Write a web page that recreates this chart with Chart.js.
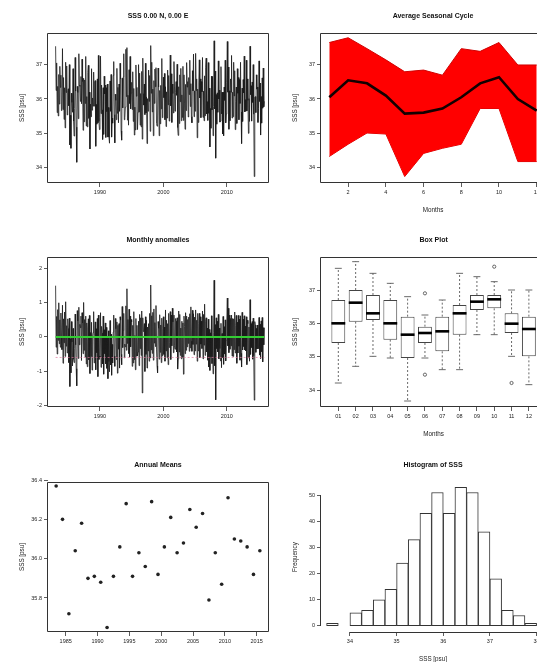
<!DOCTYPE html>
<html>
<head>
<meta charset="utf-8">
<script src="https://cdn.jsdelivr.net/npm/chart.js@4"></script>
<style>
  html, body { margin: 0; padding: 0; background: #fff; overflow: hidden; width: 537px; height: 662px; }
  canvas { position: absolute; }
</style>
</head>
<body>
<canvas id="series"></canvas>
<canvas id="cycle"></canvas>
<canvas id="anom"></canvas>
<canvas id="box"></canvas>
<canvas id="annual"></canvas>
<canvas id="hist"></canvas>
<script>
// ---- data ----
const startYear = 1983;
// monthly SSS, Jan 1983 .. Dec 2015, one row per year
const monthly = [
  37.55, 36.25, 37.06, 35.60, 36.37, 35.50, 36.72, 35.85, 36.96, 36.34, 36.70, 35.66,
  35.68, 37.48, 35.69, 36.63, 35.40, 36.33, 35.15, 37.08, 36.19, 36.97, 35.53, 36.19,
  36.30, 35.80, 37.01, 34.65, 35.52, 34.55, 36.17, 35.90, 35.61, 36.89, 35.35, 34.91,
  35.72, 37.22, 36.23, 35.17, 34.14, 36.37, 36.19, 35.42, 37.33, 36.41, 36.37, 35.93,
  36.66, 35.86, 37.17, 36.51, 35.08, 36.61, 35.33, 36.56, 35.87, 37.25, 35.21, 36.07,
  35.18, 36.78, 36.99, 35.43, 36.20, 34.53, 35.85, 35.48, 36.89, 35.67, 36.03, 35.79,
  36.79, 35.79, 36.50, 36.54, 34.61, 35.84, 35.26, 36.59, 35.30, 37.28, 35.34, 35.10,
  35.46, 37.26, 35.57, 36.41, 35.68, 34.81, 36.33, 34.96, 36.67, 36.15, 36.41, 34.87,
  36.33, 35.63, 36.44, 34.88, 35.75, 34.88, 34.70, 36.53, 35.64, 36.72, 34.88, 35.44,
  35.29, 36.69, 37.10, 35.54, 34.71, 36.14, 35.96, 35.39, 36.90, 35.58, 36.34, 35.30,
  36.44, 35.64, 37.05, 36.59, 35.06, 34.79, 36.61, 35.74, 36.65, 37.33, 35.39, 35.45,
  35.76, 37.46, 36.07, 37.51, 35.38, 36.11, 35.23, 36.86, 35.87, 37.25, 35.71, 36.17,
  36.49, 35.69, 36.80, 35.34, 36.31, 34.94, 35.76, 35.09, 37.00, 36.08, 36.34, 35.10,
  35.61, 37.01, 35.62, 36.76, 35.23, 36.16, 35.18, 36.81, 34.82, 37.20, 36.16, 35.82,
  36.44, 35.54, 37.05, 35.59, 36.06, 34.69, 36.01, 35.64, 36.85, 35.93, 36.69, 35.05,
  37.57, 36.17, 37.08, 35.62, 36.29, 34.92, 36.54, 35.87, 36.88, 36.36, 36.92, 35.28,
  35.20, 35.50, 36.91, 36.35, 34.92, 36.25, 35.27, 36.40, 35.71, 37.19, 35.45, 35.91,
  36.64, 36.04, 36.75, 35.39, 36.36, 35.19, 36.21, 35.44, 36.85, 35.83, 36.69, 35.35,
  35.89, 37.29, 35.80, 36.74, 35.31, 36.44, 36.16, 35.59, 37.10, 36.38, 35.64, 36.20,
  36.51, 36.11, 37.02, 35.16, 34.93, 36.36, 35.28, 36.71, 35.92, 36.90, 35.36, 36.12,
  35.46, 36.96, 35.37, 36.71, 35.88, 35.11, 36.43, 35.66, 37.07, 36.35, 36.51, 35.47,
  36.63, 36.13, 37.14, 35.78, 36.45, 35.48, 35.30, 36.83, 36.24, 37.32, 35.48, 36.24,
  35.64, 37.34, 36.25, 36.59, 34.86, 36.29, 35.31, 36.44, 37.15, 36.03, 36.59, 35.45,
  36.51, 36.21, 37.22, 35.46, 36.23, 35.36, 36.68, 35.51, 36.92, 37.20, 35.56, 35.92,
  35.37, 37.07, 35.58, 36.32, 34.59, 35.72, 35.14, 36.67, 35.68, 36.66, 34.92, 35.78,
  37.71, 35.71, 36.82, 34.26, 36.13, 35.26, 36.18, 35.61, 37.12, 36.00, 36.26, 35.32,
  35.35, 36.95, 35.56, 36.20, 34.97, 36.20, 34.92, 36.35, 35.96, 37.14, 35.30, 35.56,
  36.49, 37.69, 36.20, 36.94, 35.11, 36.24, 35.36, 36.59, 36.20, 37.28, 35.44, 36.20,
  35.48, 37.08, 36.09, 36.83, 35.10, 35.93, 36.35, 35.28, 36.89, 36.17, 36.63, 35.39,
  36.57, 35.87, 37.08, 35.62, 34.69, 36.32, 35.34, 36.57, 36.18, 37.26, 35.62, 35.98,
  35.64, 37.14, 35.65, 36.59, 35.96, 34.99, 36.01, 35.34, 37.55, 36.13, 36.39, 35.35,
  36.50, 35.90, 37.01, 35.55, 33.72, 36.05, 36.07, 35.60, 36.71, 36.29, 36.35, 35.31,
  35.72, 37.12, 35.93, 36.47, 34.94, 36.07, 35.29, 36.62, 35.73, 36.91, 35.77, 35.93
];

const monthNums = [1, 2, 3, 4, 5, 6, 7, 8, 9, 10, 11, 12];
const cycleMean = [36.05, 36.55, 36.46, 36.10, 35.57, 35.60, 35.72, 36.05, 36.46, 36.64, 36.00, 35.66];
const cycleMax  = [37.66, 37.80, 37.48, 37.15, 36.80, 36.85, 36.70, 37.48, 37.40, 37.66, 37.00, 37.00];
const cycleMin  = [34.31, 34.67, 35.00, 34.97, 33.72, 34.40, 34.55, 34.67, 35.72, 35.72, 34.16, 34.16];

const boxLabels = ["01", "02", "03", "04", "05", "06", "07", "08", "09", "10", "11", "12"];
const boxLow  = [34.21, 34.71, 35.01, 34.96, 33.67, 34.96, 34.61, 34.61, 35.66, 35.66, 35.01, 34.16];
const boxQ1   = [35.41, 36.05, 36.10, 35.51, 34.96, 35.41, 35.16, 35.66, 36.40, 36.45, 35.71, 35.01];
const boxMed  = [36.00, 36.62, 36.30, 36.00, 35.66, 35.71, 35.76, 36.30, 36.65, 36.72, 35.99, 35.83];
const boxQ3   = [36.70, 37.00, 36.85, 36.70, 36.20, 35.90, 36.20, 36.55, 36.85, 36.85, 36.30, 36.20];
const boxHigh = [37.65, 37.85, 37.50, 37.20, 36.80, 36.25, 36.70, 37.50, 37.40, 37.25, 37.00, 37.00];
const outMonth = [6, 6, 10, 11];
const outValue = [34.46, 36.90, 37.70, 34.21];

const years = [1983, 1984, 1985, 1986, 1987, 1988, 1989, 1990, 1991, 1992, 1993, 1994, 1995, 1996, 1997, 1998, 1999,
  2000, 2001, 2002, 2003, 2004, 2005, 2006, 2007, 2008, 2009, 2010, 2011, 2012, 2013, 2014, 2015];
const annualMeans = [36.37, 36.20, 35.72, 36.04, 36.18, 35.90, 35.91, 35.88, 35.65, 35.91, 36.06, 36.28, 35.91,
  36.03, 35.96, 36.29, 35.92, 36.06, 36.21, 36.03, 36.08, 36.25, 36.16, 36.23, 35.79, 36.03, 35.87,
  36.31, 36.10, 36.09, 36.06, 35.92, 36.04];

const histBreaks = [33.5, 33.75, 34.0, 34.25, 34.5, 34.75, 35.0, 35.25, 35.5, 35.75, 36.0, 36.25, 36.5,
  36.75, 37.0, 37.25, 37.5, 37.75, 38.0];
const histCounts = [1, 0, 5, 6, 10, 14, 24, 33, 43, 51, 43, 53, 51, 36, 18, 6, 4, 1];

const anomZero = 0;
const anomLow = -0.6;

const yearTicks = [1990, 2000, 2010];
const annualTicks = [1985, 1990, 1995, 2000, 2005, 2010, 2015];
const sssTicks = [34, 35, 36, 37];
const anomTicks = [-2, -1, 0, 1, 2];
const cycleTicks = [2, 4, 6, 8, 10, 12];
const annualYTicks = [35.8, 36.0, 36.2, 36.4];
const histXTicks = [34, 35, 36, 37, 38];
const histYTicks = [0, 10, 20, 30, 40, 50];

// ---- layout ----
const WY = 30, HX = 31, PT = 24, PR = 4;
Chart.defaults.font.family = "'Liberation Sans', Arial, sans-serif";
Chart.defaults.color = '#222';

function place(id, left, top, w, h) {
  const c = document.getElementById(id);
  c.width = WY + w + PR;
  c.height = PT + h + HX;
  c.style.left = (left - WY) + 'px';
  c.style.top = (top - PT) + 'px';
  return c;
}

function rScale(axis, min, max, tickVals, title, fmt) {
  return {
    type: 'linear', min: min, max: max, bounds: 'data', offset: false,
    afterBuildTicks: s => { s.ticks = tickVals.map(v => ({ value: v })); },
    afterFit: s => { if (axis === 'x') s.height = HX; else s.width = WY; },
    ticks: {
      autoSkip: false, maxRotation: 0, minRotation: 0, padding: 2,
      color: '#222', font: { size: 5.5 },
      callback: fmt || (v => String(v))
    },
    grid: { drawOnChartArea: false, drawTicks: true, tickLength: 4, color: '#333', lineWidth: 0.8, offset: false },
    border: { display: false },
    title: { display: !!title, text: title || '', color: '#222', font: { size: 6.3 }, padding: 0 }
  };
}

function baseOptions(xs, ys, title, box) {
  return {
    responsive: false, animation: false, devicePixelRatio: 1,
    layout: { padding: { top: PT, left: 0, right: PR, bottom: 0 } },
    plugins: {
      legend: { display: false }, tooltip: { enabled: false }, title: { display: false },
      rFrame: { title: title, box: box }
    },
    scales: { x: xs, y: ys }
  };
}

// frame / axis lines and the panel title, R style
const rFrame = {
  id: 'rFrame',
  afterDraw(chart, args, opts) {
    const { ctx, chartArea: a } = chart;
    const xs = chart.scales.x, ys = chart.scales.y;
    ctx.save();
    ctx.strokeStyle = '#333';
    ctx.lineWidth = 1;
    ctx.beginPath();
    if (opts.box) {
      ctx.rect(Math.round(a.left) - 0.5, Math.round(a.top) + 0.5, Math.round(a.width) + 1, Math.round(a.height) - 1);
    } else {
      const xt = xs.ticks, yt = ys.ticks;
      const yb = Math.round(a.bottom) + 0.5, xl = Math.round(a.left) - 0.5;
      ctx.moveTo(xs.getPixelForValue(xt[0].value), yb);
      ctx.lineTo(xs.getPixelForValue(xt[xt.length - 1].value), yb);
      ctx.moveTo(xl, ys.getPixelForValue(yt[0].value));
      ctx.lineTo(xl, ys.getPixelForValue(yt[yt.length - 1].value));
    }
    ctx.stroke();
    if (opts.title) {
      ctx.fillStyle = '#111';
      ctx.font = "bold 7px 'Liberation Sans', Arial, sans-serif";
      ctx.textAlign = 'center';
      ctx.textBaseline = 'middle';
      ctx.fillText(opts.title, (a.left + a.right) / 2, a.top - 17);
    }
    ctx.restore();
  }
};
Chart.register(rFrame);

const monthTimes = monthly.map((v, i) => startYear + i / 12);
const tFirst = monthTimes[0], tLast = monthTimes[monthTimes.length - 1];

// 1. monthly series
new Chart(place('series', 48, 33, 220, 150), {
  type: 'line',
  data: {
    datasets: [{
      data: monthly.map((v, i) => ({ x: monthTimes[i], y: v })),
      borderColor: '#1a1a1a', borderWidth: 0.8, pointRadius: 0, tension: 0
    }]
  },
  options: baseOptions(
    rScale('x', 1981.8, 2016.5, yearTicks, ''),
    rScale('y', 33.53, 37.94, sssTicks, 'SSS [psu]'),
    'SSS 0.00 N, 0.00 E', true)
});

// 2. average seasonal cycle
const xy = arr => arr.map((v, i) => ({ x: monthNums[i], y: v }));
new Chart(place('cycle', 321, 33, 224, 150), {
  type: 'line',
  data: {
    datasets: [
      { data: xy(cycleMean), borderColor: '#120000', borderWidth: 2.6, pointRadius: 0, fill: false },
      { data: xy(cycleMax), borderColor: '#d00000', backgroundColor: '#ff0000', borderWidth: 1, pointRadius: 0, fill: '+1' },
      { data: xy(cycleMin), borderColor: '#d00000', borderWidth: 1, pointRadius: 0, fill: false }
    ]
  },
  options: baseOptions(
    rScale('x', 0.56, 12.44, cycleTicks, 'Months'),
    rScale('y', 33.53, 37.94, sssTicks, 'SSS [psu]'),
    'Average Seasonal Cycle', true)
});

// 3. monthly anomalies
const anomalies = monthly.map((v, i) => v - cycleMean[i % 12]);
new Chart(place('anom', 48, 257, 220, 150), {
  type: 'line',
  data: {
    datasets: [
      { data: [{ x: tFirst, y: anomZero }, { x: tLast, y: anomZero }], borderColor: '#33cc33', borderWidth: 2, pointRadius: 0 },
      { data: [{ x: tFirst, y: anomLow }, { x: tLast, y: anomLow }], borderColor: 'rgba(225,120,160,0.7)', borderWidth: 1, borderDash: [2, 2], pointRadius: 0 },
      { data: anomalies.map((v, i) => ({ x: monthTimes[i], y: v })), borderColor: '#1a1a1a', borderWidth: 0.8, pointRadius: 0 }
    ]
  },
  options: baseOptions(
    rScale('x', 1981.8, 2016.5, yearTicks, ''),
    rScale('y', -2.05, 2.34, anomTicks, 'SSS [psu]'),
    'Monthly anomalies', true)
});

// 4. box plot per month
const boxWhiskers = {
  id: 'boxWhiskers',
  afterDatasetsDraw(chart) {
    const { ctx } = chart;
    const xs = chart.scales.x, ys = chart.scales.y;
    const bars = chart.getDatasetMeta(0).data;
    ctx.save();
    boxMed.forEach((m, i) => {
      const x = xs.getPixelForValue(monthNums[i]);
      const w = bars[i].width;
      ctx.strokeStyle = '#444';
      ctx.lineWidth = 0.8;
      ctx.setLineDash([2, 2]);
      ctx.beginPath();
      ctx.moveTo(x, ys.getPixelForValue(boxQ3[i])); ctx.lineTo(x, ys.getPixelForValue(boxHigh[i]));
      ctx.moveTo(x, ys.getPixelForValue(boxQ1[i])); ctx.lineTo(x, ys.getPixelForValue(boxLow[i]));
      ctx.stroke();
      ctx.setLineDash([]);
      ctx.beginPath();
      [boxHigh[i], boxLow[i]].forEach(v => {
        const y = ys.getPixelForValue(v);
        ctx.moveTo(x - w / 4, y); ctx.lineTo(x + w / 4, y);
      });
      ctx.stroke();
      ctx.strokeStyle = '#000';
      ctx.lineWidth = 2.6;
      const ym = ys.getPixelForValue(m);
      ctx.beginPath(); ctx.moveTo(x - w / 2, ym); ctx.lineTo(x + w / 2, ym); ctx.stroke();
    });
    ctx.restore();
  }
};
new Chart(place('box', 321, 257, 226, 150), {
  type: 'bar',
  data: {
    datasets: [
      {
        data: monthNums.map((m, i) => ({ x: m, y: [boxQ1[i], boxQ3[i]] })),
        backgroundColor: '#fff', borderColor: '#444', borderWidth: 1, borderSkipped: false,
        barPercentage: 0.8, categoryPercentage: 1
      },
      {
        type: 'scatter',
        data: outMonth.map((m, i) => ({ x: m, y: outValue[i] })),
        pointRadius: 1.6, pointStyle: 'circle', borderColor: '#444', backgroundColor: 'rgba(0,0,0,0)', borderWidth: 0.8
      }
    ]
  },
  options: baseOptions(
    rScale('x', 0, 13, monthNums, 'Months', v => boxLabels[v - 1]),
    rScale('y', 33.49, 37.99, sssTicks, 'SSS [psu]'),
    'Box Plot', true),
  plugins: [boxWhiskers]
});

// 5. annual means
new Chart(place('annual', 48, 482, 220, 150), {
  type: 'scatter',
  data: {
    datasets: [{
      data: years.map((y, i) => ({ x: y + 0.5, y: annualMeans[i] })),
      pointRadius: 1.8, pointStyle: 'circle', backgroundColor: '#222', borderWidth: 0
    }]
  },
  options: baseOptions(
    rScale('x', 1982.22, 2016.78, annualTicks, ''),
    rScale('y', 35.627, 36.39, annualYTicks, 'SSS [psu]', v => v.toFixed(1)),
    'Annual Means', true)
});

// 6. histogram
new Chart(place('hist', 321, 482, 224, 150), {
  type: 'bar',
  data: {
    datasets: [{
      data: histCounts.map((c, i) => ({ x: (histBreaks[i] + histBreaks[i + 1]) / 2, y: c })),
      backgroundColor: '#fff', borderColor: '#333', borderWidth: 1, borderSkipped: false,
      barPercentage: 1, categoryPercentage: 1
    }]
  },
  options: baseOptions(
    rScale('x', 33.38, 38.18, histXTicks, 'SSS [psu]'),
    rScale('y', -2.3, 55, histYTicks, 'Frequency'),
    'Histogram of SSS', false)
});
</script>
</body>
</html>
